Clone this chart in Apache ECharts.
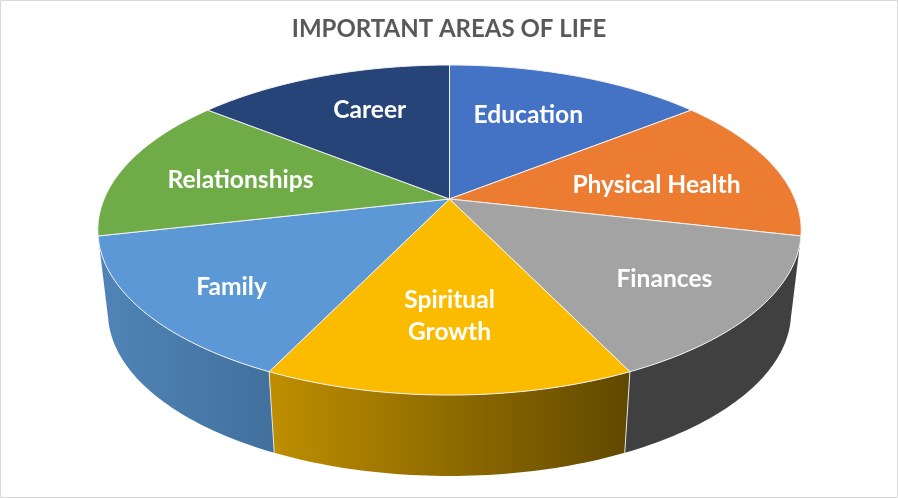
<!DOCTYPE html>
<html><head><meta charset="utf-8">
<style>html,body{margin:0;padding:0;background:#fff}#c{width:898px;height:498px}</style>
<script src="https://cdn.jsdelivr.net/npm/echarts@6/dist/echarts.min.js"></script>
</head><body><div id="c"></div>
<script>
// Data
const titleText = 'IMPORTANT AREAS OF LIFE';
const categories = ['Education','Physical Health','Finances','Spiritual\nGrowth','Family','Relationships','Career'];
const values = [1,1,1,1,1,1,1];
// Styles
const topColors = ['#4472c4','#eb7c31','#a3a3a3','#fbbc00','#5b98d5','#6fab46','#264478'];
const wallColors = [null,null,['#404040','#404040'],['#bf8f00','#604800'],['#5084b8','#41709c'],null,null];
const labelNudges = [[-15,6],[-22,10],[9,4],[0,-11],[-12,12],[20,5],[14,1]];
// Perspective disc geometry
const CX = 449.5, TOP_Y = 199, BOT_Y = 281.4, Q = 0.188, TOP_A = 345.4, TOP_B = 159.2, BOT_A = 335.5, BOT_B = 158, LABEL_R = 0.7;
const total = values.reduce((a,b)=>a+b,0);
function proj(theta, r, cy, A, B){
  const u = r*Math.sin(theta), v = r*Math.cos(theta), d = 1+Q*v;
  return [CX + A*u/d, cy - B*v/d];
}
function arc(a0, a1, cy, A, B){
  const pts = [], n = 48;
  for(let i=0;i<=n;i++) pts.push(proj(a0+(a1-a0)*i/n, 1, cy, A, B));
  return pts;
}
function edge(theta){
  const a = proj(theta,1,TOP_Y,TOP_A,TOP_B), b = proj(theta,1,BOT_Y,BOT_A,BOT_B);
  return {type:'line',z2:3,shape:{x1:a[0],y1:a[1],x2:b[0],y2:b[1]},style:{stroke:'#e4e4e4',lineWidth:1}};
}
function renderItem(params, api){
  const i = params.dataIndex;
  let before = 0;
  for(let k=0;k<i;k++) before += values[k];
  const a0 = before/total*2*Math.PI, a1 = (before+api.value(0))/total*2*Math.PI;
  const topArc = arc(a0,a1,TOP_Y,TOP_A,TOP_B);
  const children = [];
  const wc = wallColors[i];
  if(wc){
    const pts = topArc.concat(arc(a0,a1,BOT_Y,BOT_A,BOT_B).reverse());
    children.push({type:'polygon',shape:{points:pts},z2:1,style:{
      fill:new echarts.graphic.LinearGradient(0,0,1,0,[{offset:0,color:wc[0]},{offset:1,color:wc[1]}])}});
    if(i===3){ children.push(edge(a0)); children.push(edge(a1)); }
  }
  children.push({type:'polygon',z2:4,shape:{points:[[CX,TOP_Y]].concat(topArc)},style:{
    fill:topColors[i],stroke:'#f2f2f2',lineWidth:1,lineJoin:'round'}});
  const mid = (a0+a1)/2, at = proj(mid,LABEL_R,TOP_Y,TOP_A,TOP_B), nudge = labelNudges[i];
  children.push({type:'text',z2:6,x:at[0]+nudge[0],y:at[1]+nudge[1],style:{
    text:categories[i],fill:'#ffffff',font:'bold 24.6px Lato',align:'center',verticalAlign:'middle',lineHeight:32}});
  return {type:'group',children};
}
const chart = echarts.init(document.getElementById('c'),null,{renderer:'canvas'});
chart.setOption({
  animation:false,
  backgroundColor:'#ffffff',
  title:{text:titleText,left:'center',top:12,textStyle:{color:'#595959',fontFamily:'Lato',fontWeight:'bold',fontSize:24}},
  graphic:[{type:'rect',silent:true,z:-1,shape:{x:0.5,y:0.5,width:897,height:497},style:{fill:'none',stroke:'#d9d9d9',lineWidth:1}}],
  series:[{type:'custom',coordinateSystem:'none',renderItem,data:values.map((v,i)=>({name:categories[i],value:[v]}))}]
});
</script></body></html>
